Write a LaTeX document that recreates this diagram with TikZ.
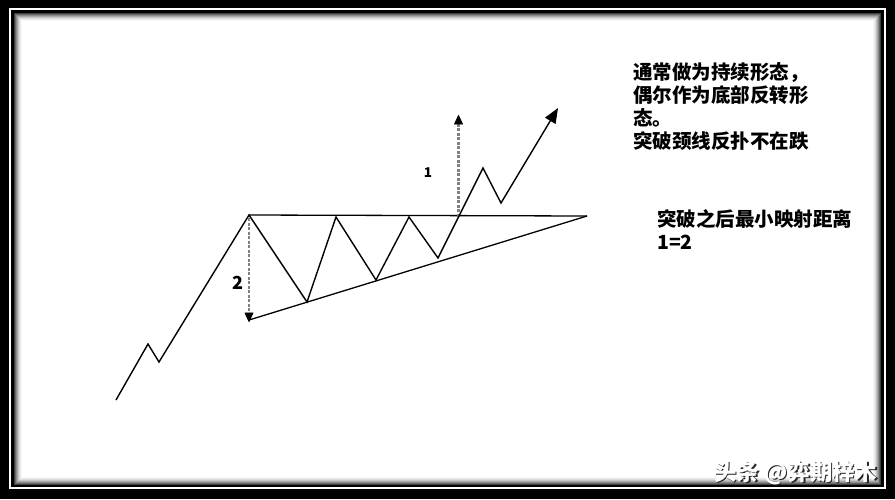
\documentclass[tikz,border=0pt]{standalone}
\usepackage{fontspec}
\newfontfamily\cjk{Noto Sans CJK SC}
\usetikzlibrary{arrows.meta}
\begin{document}
\begin{tikzpicture}[x=1pt,y=-1pt,
  price/.style={line width=1.4pt, black, line join=miter},
  bound/.style={line width=1.3pt, black},
  measure/.style={line width=2.2pt, black!50, dash pattern=on 3pt off 1.5pt,
    -{Triangle[black,length=10pt,width=9pt,round,line width=0.8pt]}},
  note/.style={font=\cjk\bfseries\fontsize{19.5}{23}\selectfont, align=left, inner sep=0pt},
  lbl/.style={font=\cjk\bfseries, inner sep=0pt},
  wmark/.style={font=\cjk\bfseries\fontsize{22.4}{24}\selectfont, inner sep=0pt, anchor=base west}
]
\useasboundingbox (0,0) rectangle (895,499);
% frame
\fill[black] (0,0) rectangle (895,499);
\fill[white] (9,8) rectangle (886,489);
\fill[black] (11,10) rectangle (884,487);
\foreach \i/\k in {0/75,1/60,2/46,3/34,4/23,5/14,6/7,7/3}{
  \fill[black!\k] (14+\i,13+\i) rectangle (881-\i,485-\i);
}
\fill[white] (22,21) rectangle (873,477);

% coordinates
\coordinate (s0) at (116,400);
\coordinate (s1) at (148,344);
\coordinate (s2) at (159,362);
\coordinate (A) at (249,215);
\coordinate (B) at (249,320);
\coordinate (R) at (587,216);
\coordinate (z1) at (307,302);
\coordinate (z2) at (336,217);
\coordinate (z3) at (376,280);
\coordinate (z4) at (409,217);
\coordinate (z5) at (438,258);
\coordinate (z6) at (483,168);
\coordinate (z7) at (501,203);
\coordinate (E) at (558,108);
\coordinate (brk) at (458.5,216.5);
\coordinate (T1) at (458.5,115);
\coordinate (A2) at (249,218);
\coordinate (T2) at (249,322);

% triangle
\draw[bound] (A) -- (R);
\draw[bound] (B) -- (R);

% measures
\draw[measure] (brk) -- (T1);
\draw[measure] (A2) -- (T2);

% price path
\draw[price, -{Triangle[length=15pt,width=12pt]}]
  (s0) -- (s1) -- (s2) -- (A) -- (z1) -- (z2) -- (z3) -- (z4) -- (z5) -- (z6) -- (z7) -- (E);

% labels
\node[lbl, font=\cjk\bfseries\fontsize{13.5}{13.5}\selectfont] (l1) at (428,173) {1};
\node[lbl, font=\cjk\bfseries\fontsize{18}{18}\selectfont] (l2) at (238,283) {2};

% notes
\node[note, anchor=north west] (n1) at (633,62) {通常做为持续形态，\\偶尔作为底部反转形\\态。\\突破颈线反扑不在跌};
\node[note, anchor=north west] (n2) at (657,209) {突破之后最小映射距离\\1=2};

% watermark
\node[wmark, text=black!85] (wm0) at (715.6,481.8) {头条 @弈期梓木};
\node[wmark, text=white] (wm) at (714.3,480.5) {头条 @弈期梓木};
\end{tikzpicture}
\end{document}
